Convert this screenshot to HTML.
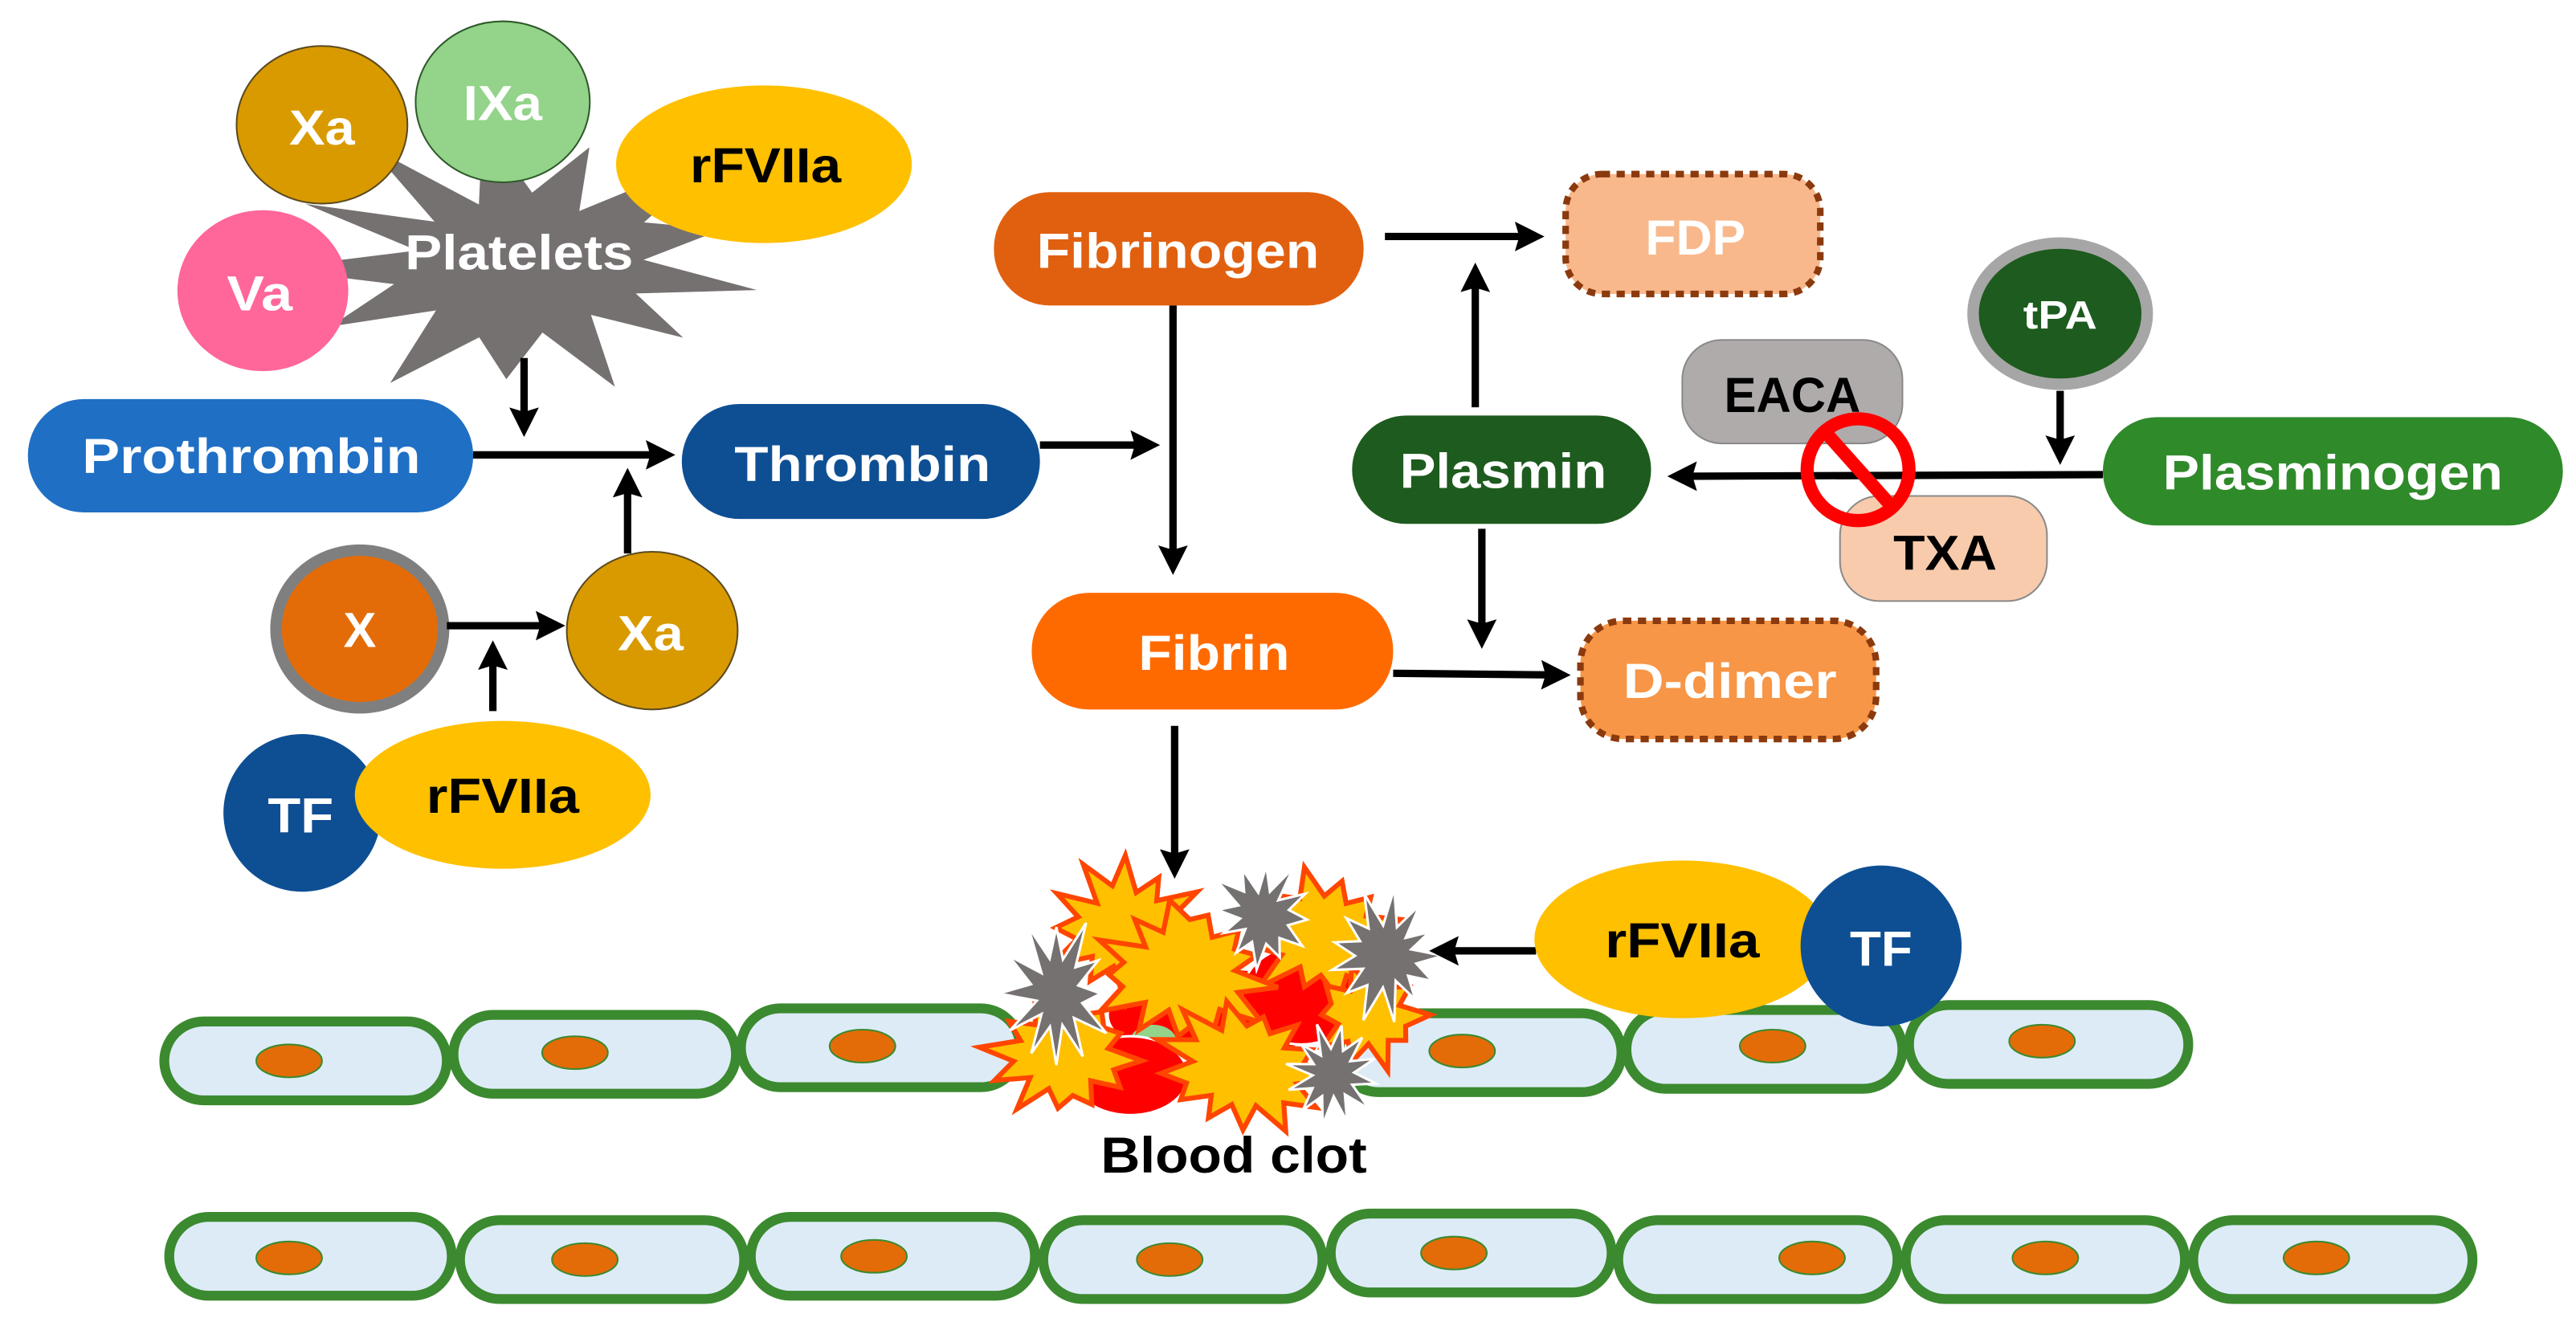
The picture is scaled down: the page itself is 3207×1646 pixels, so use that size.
<!DOCTYPE html>
<html><head><meta charset="utf-8"><style>
html,body{margin:0;padding:0;background:#fff;}
svg{display:block;}
text{font-family:"Liberation Sans",sans-serif;font-weight:bold;}
</style></head><body>
<svg id="s" width="3207" height="1646" viewBox="0 0 1568 805" preserveAspectRatio="none" xmlns="http://www.w3.org/2000/svg">
<defs>
<marker id="ah" markerWidth="4" markerHeight="4" refX="2.2" refY="2" orient="auto" markerUnits="strokeWidth"><path d="M0,0 L4,2 L0,4 L0.6,2 Z" fill="#000"/></marker>
</defs>
<g stroke="#3B8A2F" stroke-width="6" fill="#DDEBF7">
<rect x="103" y="741" width="172" height="48" rx="24"/>
<rect x="280" y="743" width="173" height="48" rx="24"/>
<rect x="457" y="741" width="173" height="48" rx="24"/>
<rect x="635" y="743" width="170" height="48" rx="24"/>
<rect x="810" y="739" width="171" height="48" rx="24"/>
<rect x="985" y="743" width="170" height="48" rx="24"/>
<rect x="1160" y="743" width="170" height="48" rx="24"/>
<rect x="1335" y="743" width="170" height="48" rx="24"/>
</g>
<g fill="#E36C09" stroke="#3B8A2F" stroke-width="1">
<ellipse cx="176" cy="766" rx="20" ry="10"/><ellipse cx="356" cy="767" rx="20" ry="10"/><ellipse cx="532" cy="765" rx="20" ry="10"/><ellipse cx="712" cy="767" rx="20" ry="10"/><ellipse cx="885" cy="763" rx="20" ry="10"/><ellipse cx="1103" cy="766" rx="20" ry="10"/><ellipse cx="1245" cy="766" rx="20" ry="10"/><ellipse cx="1410" cy="766" rx="20" ry="10"/>
</g>
<g stroke="#3B8A2F" stroke-width="6" fill="#DDEBF7">
<rect x="100" y="622" width="172" height="48" rx="24"/>
<rect x="276" y="618" width="172" height="48" rx="24"/>
<rect x="451" y="614" width="170" height="48" rx="24"/>
<rect x="815" y="617" width="172" height="48" rx="24"/>
<rect x="990" y="615" width="168" height="48" rx="24"/>
<rect x="1162" y="612" width="170" height="48" rx="24"/>
</g>
<g fill="#E36C09" stroke="#3B8A2F" stroke-width="1">
<ellipse cx="176" cy="646" rx="20" ry="10"/><ellipse cx="350" cy="641" rx="20" ry="10"/><ellipse cx="525" cy="637" rx="20" ry="10"/><ellipse cx="890" cy="640" rx="20" ry="10"/><ellipse cx="1079" cy="637" rx="20" ry="10"/><ellipse cx="1243" cy="634" rx="20" ry="10"/>
</g>
<g id="clot"></g>
<text x="751" y="714" font-size="31" fill="#000" text-anchor="middle" textLength="162" lengthAdjust="spacingAndGlyphs">Blood clot</text>

<g id="plat"></g>
<ellipse cx="196" cy="76" rx="52" ry="48" fill="#D99A00" stroke="#5a4a20" stroke-width="1"/>
<ellipse cx="306" cy="62" rx="53" ry="49" fill="#93D38A" stroke="#2e5a2a" stroke-width="1"/>
<ellipse cx="465" cy="100" rx="90" ry="48" fill="#FFC000"/>
<ellipse cx="160" cy="177" rx="52" ry="49" fill="#FF6699"/>
<g fill="#fff" font-size="30" text-anchor="middle">
<text x="196" y="88" textLength="40" lengthAdjust="spacingAndGlyphs">Xa</text>
<text x="306" y="73" textLength="48" lengthAdjust="spacingAndGlyphs">IXa</text>
<text x="158" y="189" textLength="40" lengthAdjust="spacingAndGlyphs">Va</text>
<text x="316" y="164" textLength="139" lengthAdjust="spacingAndGlyphs">Platelets</text>
</g>
<text x="466" y="111" font-size="30" text-anchor="middle" fill="#000" textLength="92" lengthAdjust="spacingAndGlyphs">rFVIIa</text>

<rect x="17" y="243" width="271" height="69" rx="34" fill="#1F6FC5"/>
<text x="153" y="288" font-size="30" fill="#fff" text-anchor="middle" textLength="206" lengthAdjust="spacingAndGlyphs">Prothrombin</text>
<rect x="415" y="246" width="218" height="70" rx="35" fill="#0E4F94"/>
<text x="525" y="293" font-size="30" fill="#fff" text-anchor="middle" textLength="156" lengthAdjust="spacingAndGlyphs">Thrombin</text>

<ellipse cx="219" cy="383" rx="51" ry="48" fill="#E36C09" stroke="#7F7F7F" stroke-width="7"/>
<text x="219" y="394" font-size="30" fill="#fff" text-anchor="middle">X</text>
<ellipse cx="397" cy="384" rx="52" ry="48" fill="#D99A00" stroke="#5a4a20" stroke-width="1"/>
<text x="396" y="396" font-size="30" fill="#fff" text-anchor="middle" textLength="40" lengthAdjust="spacingAndGlyphs">Xa</text>
<circle cx="184" cy="495" r="48" fill="#0E4F94"/>
<text x="183" y="507" font-size="30" fill="#fff" text-anchor="middle" textLength="40" lengthAdjust="spacingAndGlyphs">TF</text>
<ellipse cx="306" cy="484" rx="90" ry="45" fill="#FFC000"/>
<text x="306" y="495" font-size="30" fill="#000" text-anchor="middle" textLength="93" lengthAdjust="spacingAndGlyphs">rFVIIa</text>

<rect x="605" y="117" width="225" height="69" rx="34" fill="#E0600F"/>
<text x="717" y="163" font-size="30" fill="#fff" text-anchor="middle" textLength="172" lengthAdjust="spacingAndGlyphs">Fibrinogen</text>
<rect x="953" y="106" width="155" height="73" rx="22" fill="#F8B88B" stroke="#8B3A0E" stroke-width="4" stroke-dasharray="5,4"/>
<text x="1032" y="155" font-size="30" fill="#fff" text-anchor="middle" textLength="61" lengthAdjust="spacingAndGlyphs">FDP</text>
<rect x="628" y="361" width="220" height="71" rx="35" fill="#FF6A00"/>
<text x="739" y="408" font-size="30" fill="#fff" text-anchor="middle" textLength="92" lengthAdjust="spacingAndGlyphs">Fibrin</text>
<rect x="962" y="378" width="180" height="72" rx="26" fill="#F79646" stroke="#8B3A0E" stroke-width="4" stroke-dasharray="5,4"/>
<text x="1053" y="425" font-size="30" fill="#fff" text-anchor="middle" textLength="130" lengthAdjust="spacingAndGlyphs">D-dimer</text>
<rect x="823" y="253" width="182" height="66" rx="33" fill="#1E5B1E"/>
<text x="915" y="297" font-size="30" fill="#fff" text-anchor="middle" textLength="126" lengthAdjust="spacingAndGlyphs">Plasmin</text>
<rect x="1024" y="207" width="134" height="63" rx="24" fill="#AFABAB" stroke="#8a8a8a" stroke-width="1"/>
<text x="1091" y="251" font-size="30" fill="#000" text-anchor="middle" textLength="83" lengthAdjust="spacingAndGlyphs">EACA</text>
<rect x="1120" y="302" width="126" height="64" rx="24" fill="#F8CBAD" stroke="#8a8a8a" stroke-width="1"/>
<text x="1184" y="347" font-size="30" fill="#000" text-anchor="middle" textLength="63" lengthAdjust="spacingAndGlyphs">TXA</text>
<ellipse cx="1254" cy="191" rx="53" ry="43" fill="#1E5B1E" stroke="#A6A6A6" stroke-width="7"/>
<text x="1254" y="200" font-size="24" fill="#fff" text-anchor="middle" textLength="45" lengthAdjust="spacingAndGlyphs">tPA</text>
<rect x="1280" y="254" width="280" height="66" rx="33" fill="#2F8A2A"/>
<text x="1420" y="298" font-size="30" fill="#fff" text-anchor="middle" textLength="207" lengthAdjust="spacingAndGlyphs">Plasminogen</text>

<g stroke="#000" stroke-width="4.5" fill="none" marker-end="url(#ah)">
<line x1="319" y1="218" x2="319" y2="258"/>
<line x1="288" y1="277" x2="403" y2="277"/>
<line x1="382" y1="337" x2="382" y2="293"/>
<line x1="272" y1="381" x2="336" y2="381"/>
<line x1="300" y1="433" x2="300" y2="398"/>
<line x1="633" y1="271" x2="698" y2="271"/>
<line x1="843" y1="144" x2="932" y2="144"/>
<line x1="714" y1="186" x2="714" y2="342"/>
<line x1="848" y1="410" x2="948" y2="411"/>
<line x1="898" y1="248" x2="898" y2="168"/>
<line x1="902" y1="322" x2="902" y2="387"/>
<line x1="715" y1="442" x2="715" y2="527"/>
<line x1="1280" y1="289" x2="1023" y2="290"/>
<line x1="1254" y1="238" x2="1254" y2="275"/>
<line x1="935" y1="579" x2="878" y2="579"/>
</g>
<circle cx="1131" cy="286" r="31" fill="none" stroke="#FF0000" stroke-width="8"/>
<line x1="1111" y1="263" x2="1152" y2="309" stroke="#FF0000" stroke-width="8"/>

<ellipse cx="1024" cy="572" rx="90" ry="48" fill="#FFC000"/>
<text x="1024" y="583" font-size="30" fill="#000" text-anchor="middle" textLength="94" lengthAdjust="spacingAndGlyphs">rFVIIa</text>
<circle cx="1145" cy="576" r="49" fill="#0E4F94"/>
<text x="1145" y="588" font-size="30" fill="#fff" text-anchor="middle" textLength="38" lengthAdjust="spacingAndGlyphs">TF</text>
</svg>
<script>
var NS="http://www.w3.org/2000/svg";
function star(cx,cy,rx,ry,n,inner,seed,rot){
 var p=[],s=seed;
 function rnd(){s=(s*9301+49297)%233280;return s/233280;}
 for(var i=0;i<2*n;i++){
  var a=(rot||0)+Math.PI*i/n;
  var f=(i%2==0)?(0.8+0.35*rnd()):inner*(0.85+0.3*rnd());
  p.push((cx+Math.cos(a)*rx*f).toFixed(1)+","+(cy+Math.sin(a)*ry*f).toFixed(1));
 }
 return p.join(" ");
}
function poly(g,pts,fill,stroke,sw){
 var e=document.createElementNS(NS,"polygon");e.setAttribute("points",pts);e.setAttribute("fill",fill);
 if(stroke){e.setAttribute("stroke",stroke);e.setAttribute("stroke-width",sw);e.setAttribute("stroke-linejoin","miter");}
 g.appendChild(e);
}
function ell(g,cx,cy,rx,ry,fill,stroke){
 var e=document.createElementNS(NS,"ellipse");e.setAttribute("cx",cx);e.setAttribute("cy",cy);e.setAttribute("rx",rx);e.setAttribute("ry",ry);e.setAttribute("fill",fill);
 if(stroke){e.setAttribute("stroke",stroke);e.setAttribute("stroke-width",1.5);}
 g.appendChild(e);
}
var pl=document.getElementById("plat");
poly(pl,star(318,160,150,86,13,0.5,7,0.2),"#767171");
var c=document.getElementById("clot");
ell(c,740,618,65,28,"#FF0000");
ell(c,792,606,36,30,"#FF0000","#fff");
poly(c,star(685,565,46,40,12,0.62,3,0),"#FFC000","#FF4500",3);
poly(c,star(805,570,46,40,12,0.62,5,0.3),"#FFC000","#FF4500",3);
ell(c,702,634,14,10,"#93D38A");
ell(c,688,655,35,24,"#FF0000","#fff");
poly(c,star(648,642,46,38,12,0.62,11,0.1),"#FFC000","#FF4500",3);
poly(c,star(721,592,55,44,13,0.64,13,0.2),"#FFC000","#FF4500",3);
poly(c,star(833,618,34,32,10,0.62,17,0),"#FFC000","#FF4500",3);
poly(c,star(758,650,52,40,13,0.64,19,0.15),"#FFC000","#FF4500",3);
poly(c,star(643,605,32,44,12,0.45,23,0),"#767171","#fff",1.5);
poly(c,star(768,557,30,32,12,0.5,29,0.1),"#767171","#fff",1.5);
poly(c,star(844,582,36,38,13,0.5,31,0),"#767171","#fff",1.5);
poly(c,star(811,654,26,28,12,0.5,37,0.2),"#767171","#fff",1.5);
</script>
</body></html>
